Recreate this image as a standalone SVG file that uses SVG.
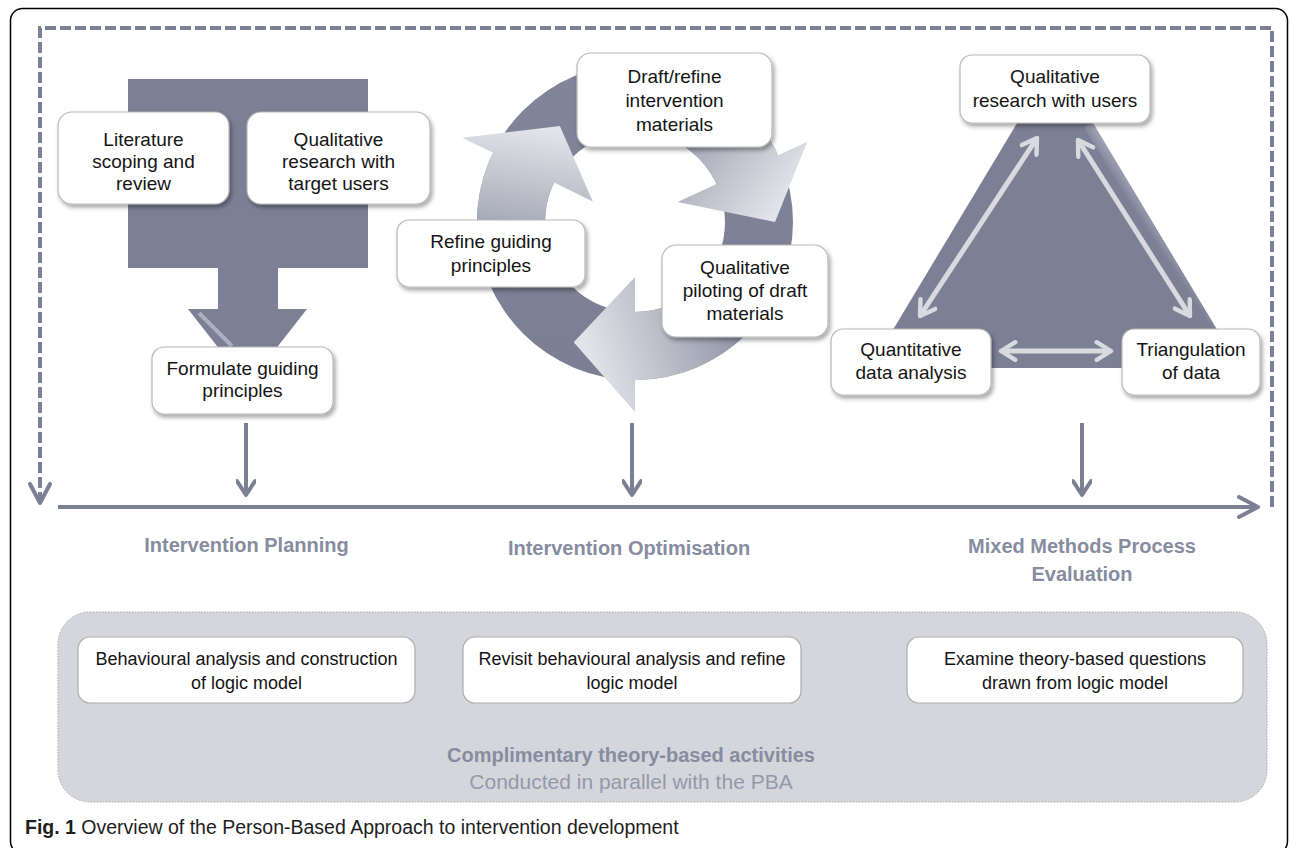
<svg xmlns="http://www.w3.org/2000/svg" width="1290" height="848" viewBox="0 0 1290 848">
<defs>
<style>
.box{fill:#fff;stroke:#b8b8b8;stroke-width:1.2;filter:url(#sh)}
.bbox{fill:#fff;stroke:#adadad;stroke-width:1.2}
.t{font-family:"Liberation Sans",Arial,sans-serif;font-size:19px;fill:#141414;text-anchor:middle}
.tb{font-family:"Liberation Sans",Arial,sans-serif;font-size:18px;fill:#141414;text-anchor:middle}
.ph{font-family:"Liberation Sans",Arial,sans-serif;font-size:20px;font-weight:bold;fill:#878c9f;text-anchor:middle}
.conn{fill:none;stroke:#7b8094;stroke-width:4}
.la{fill:none;stroke:#d8dadf;stroke-width:5}
.dark{fill:#7b8094}
</style>
<filter id="sh" x="-10%" y="-10%" width="125%" height="135%">
<feDropShadow dx="2" dy="3" stdDeviation="2.2" flood-color="#000" flood-opacity="0.35"/>
</filter>
<marker id="ah" viewBox="0 0 20 20" refX="17" refY="10" markerWidth="20" markerHeight="20" markerUnits="userSpaceOnUse" orient="auto">
<path d="M3,1 L17,10 L3,19" fill="none" stroke="#7b8094" stroke-width="4" stroke-linecap="round" stroke-linejoin="round"/>
</marker>
<marker id="ahL" viewBox="0 0 24 24" refX="21" refY="12" markerWidth="24" markerHeight="24" markerUnits="userSpaceOnUse" orient="auto">
<path d="M2,2 L21,12 L2,22" fill="none" stroke="#7b8094" stroke-width="4" stroke-linecap="round" stroke-linejoin="round"/>
</marker>
<marker id="lh" viewBox="0 0 20 20" refX="17" refY="10" markerWidth="22" markerHeight="22" markerUnits="userSpaceOnUse" orient="auto-start-reverse">
<path d="M4,2 L17,10 L4,18" fill="none" stroke="#d8dadf" stroke-width="4" stroke-linecap="round" stroke-linejoin="round"/>
</marker>
<linearGradient id="g1" gradientUnits="userSpaceOnUse" x1="520" y1="295" x2="545" y2="130">
<stop offset="0" stop-color="#7c8196"/><stop offset="1" stop-color="#e3e4e9"/>
</linearGradient>
<linearGradient id="g2" gradientUnits="userSpaceOnUse" x1="640" y1="90" x2="785" y2="200">
<stop offset="0" stop-color="#7c8196"/><stop offset="1" stop-color="#e3e4e9"/>
</linearGradient>
<linearGradient id="g3" gradientUnits="userSpaceOnUse" x1="765" y1="290" x2="585" y2="345">
<stop offset="0" stop-color="#7c8196"/><stop offset="1" stop-color="#e3e4e9"/>
</linearGradient>
<linearGradient id="ring" x1="0" y1="0" x2="0" y2="1">
<stop offset="0" stop-color="#80859a"/><stop offset="1" stop-color="#7a7f93"/>
</linearGradient>
<linearGradient id="bevel" gradientUnits="userSpaceOnUse" x1="1160" y1="250" x2="1175" y2="240">
<stop offset="0" stop-color="#7b8094"/><stop offset="1" stop-color="#b4b8c6"/>
</linearGradient>
</defs>

<rect x="10.5" y="8.5" width="1277" height="845" rx="12" fill="#fff" stroke="#000" stroke-width="1.5"/>

<g id="theory-panel">
<rect x="58" y="612" width="1209" height="190" rx="32" fill="#d5d6db" stroke="#a6a6a6" stroke-width="1" stroke-dasharray="1.5 1.5"/>
<text class="ph" x="631" y="762">Complimentary theory-based activities</text>
<text x="631" y="789" font-family="Liberation Sans, Arial, sans-serif" font-size="21" fill="#9499aa" text-anchor="middle">Conducted in parallel with the PBA</text>
</g>

<g id="planning-shape">
<polygon class="dark" points="128,79 368,79 368,268 278,268 278,309 307,309 247.5,385 188,309 218,309 218,268 128,268"/>
<line x1="199" y1="313" x2="232" y2="346" stroke="#b8bbc7" stroke-width="4" opacity="0.8"/>
</g>

<g id="cycle-shape">
<path fill="url(#ring)" fill-rule="evenodd" d="M793,222 A158,158 0 1 1 477,222 A158,158 0 1 1 793,222 Z M725,222 A90,90 0 1 0 545,222 A90,90 0 1 0 725,222 Z"/>
<path fill="url(#g1)" d="M498.2,301 A158,158 0 0 1 493,152.7 L462.4,137.8 L559.9,125.9 L592.8,201.4 L554.1,182.5 A90,90 0 0 0 557.1,267 Z"/>
<path fill="url(#g2)" d="M635,64 A158,158 0 0 1 778.2,155.2 L807.2,141.7 L775,222 L677.6,202.1 L716.6,184 A90,90 0 0 0 635,132 Z"/>
<path fill="url(#g3)" d="M771.8,301 A158,158 0 0 1 635,380 L635,412 L573.7,342.3 L635,277 L635,312 A90,90 0 0 0 712.9,267 Z"/>
</g>

<g id="triangle-shape">
<polygon class="dark" points="1055,60 1240,368 870,368"/>
<polygon fill="url(#bevel)" opacity="0.85" points="1093,123 1240,368 1228,368 1084,127"/>
</g>

<g id="connectors">
<path class="conn" stroke-dasharray="11 4" d="M1272,507 V28 H40 V503" marker-end="url(#ahL)"/>
<path class="conn" d="M58,507 H1258" marker-end="url(#ahL)"/>
<path class="conn" d="M246,423 V495" marker-end="url(#ah)"/>
<path class="conn" d="M632,423 V495" marker-end="url(#ah)"/>
<path class="conn" d="M1082,423 V495" marker-end="url(#ah)"/>
<path class="la" d="M1037,138 L920,316" marker-start="url(#lh)" marker-end="url(#lh)"/>
<path class="la" d="M1078,140 L1190,316" marker-start="url(#lh)" marker-end="url(#lh)"/>
<path class="la" d="M1001,351 L1111,351" marker-start="url(#lh)" marker-end="url(#lh)"/>
</g>

<g id="literature">
<rect class="box" x="58" y="112" width="171" height="92" rx="14"/>
<text class="t" x="143.5" y="146">Literature</text>
<text class="t" x="143.5" y="168">scoping and</text>
<text class="t" x="143.5" y="190">review</text>
</g>
<g id="qual-target">
<rect class="box" x="247" y="112" width="183" height="92" rx="14"/>
<text class="t" x="338.5" y="146">Qualitative</text>
<text class="t" x="338.5" y="168">research with</text>
<text class="t" x="338.5" y="190">target users</text>
</g>
<g id="formulate">
<rect class="box" x="152" y="347" width="181" height="67" rx="12"/>
<text class="t" x="242.5" y="375">Formulate guiding</text>
<text class="t" x="242.5" y="397">principles</text>
</g>

<g id="draft-refine">
<rect class="box" x="577" y="53" width="195" height="94" rx="14"/>
<text class="t" x="674.5" y="83">Draft/refine</text>
<text class="t" x="674.5" y="107">intervention</text>
<text class="t" x="674.5" y="131">materials</text>
</g>
<g id="refine-principles">
<rect class="box" x="397" y="220" width="188" height="67" rx="12"/>
<text class="t" x="491" y="248">Refine guiding</text>
<text class="t" x="491" y="272">principles</text>
</g>
<g id="qual-piloting">
<rect class="box" x="662" y="245" width="166" height="92" rx="14"/>
<text class="t" x="745" y="274">Qualitative</text>
<text class="t" x="745" y="297">piloting of draft</text>
<text class="t" x="745" y="320">materials</text>
</g>

<g id="qual-users">
<rect class="box" x="960" y="55" width="190" height="68" rx="12"/>
<text class="t" x="1055" y="83">Qualitative</text>
<text class="t" x="1055" y="107">research with users</text>
</g>
<g id="quantitative">
<rect class="box" x="831" y="329" width="160" height="66" rx="12"/>
<text class="t" x="911" y="356">Quantitative</text>
<text class="t" x="911" y="379">data analysis</text>
</g>
<g id="triangulation">
<rect class="box" x="1122" y="329" width="138" height="66" rx="12"/>
<text class="t" x="1191" y="356">Triangulation</text>
<text class="t" x="1191" y="379">of data</text>
</g>

<g id="phase-labels">
<text class="ph" x="246.5" y="552">Intervention Planning</text>
<text class="ph" x="629" y="555">Intervention Optimisation</text>
<text class="ph" x="1082" y="553">Mixed Methods Process</text>
<text class="ph" x="1082" y="581">Evaluation</text>
</g>

<g id="behavioural">
<rect class="bbox" x="78" y="637" width="337" height="66" rx="12"/>
<text class="tb" x="246.5" y="665">Behavioural analysis and construction</text>
<text class="tb" x="246.5" y="689">of logic model</text>
</g>
<g id="revisit">
<rect class="bbox" x="463" y="637" width="338" height="66" rx="12"/>
<text class="tb" x="632" y="665">Revisit behavioural analysis and refine</text>
<text class="tb" x="632" y="689">logic model</text>
</g>
<g id="examine">
<rect class="bbox" x="907" y="637" width="336" height="66" rx="12"/>
<text class="tb" x="1075" y="665">Examine theory-based questions</text>
<text class="tb" x="1075" y="689">drawn from logic model</text>
</g>

<text x="25" y="834" font-family="Liberation Sans, Arial, sans-serif" font-size="19.5" fill="#1e1e1e"><tspan font-weight="bold">Fig. 1</tspan> Overview of the Person-Based Approach to intervention development</text>
</svg>
